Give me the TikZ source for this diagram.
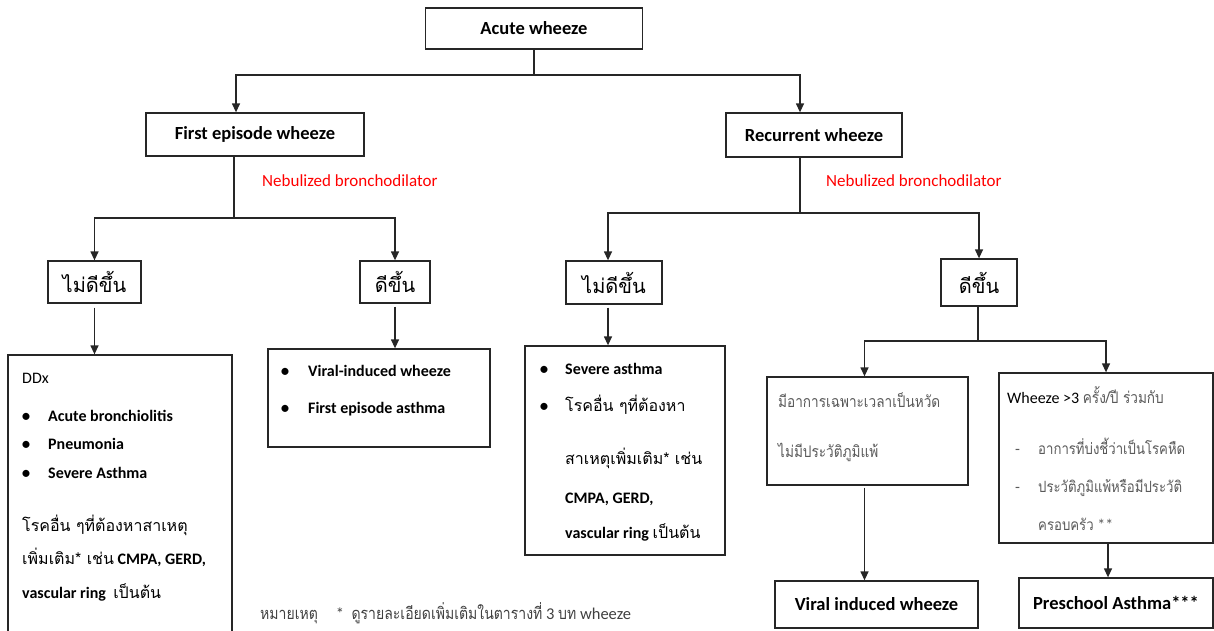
\documentclass[tikz,border=0pt]{standalone}
\usepackage{fontspec}
\setmainfont{Carlito}
\newfontfamily\thaifont[Script=Thai]{Loma}
\newfontfamily\thaithin[Script=Thai,FakeStretch=0.85]{Loma}
\usetikzlibrary{arrows.meta,positioning,calc}
\tikzset{wh/.style n args={2}{minimum width=#1, minimum height=#2}}

\begin{document}
\begin{tikzpicture}[
  x=1pt, y=-1pt,
  >={Triangle[length=9pt,width=8pt]},
  box/.style={rectangle, draw=black!85, line width=1.3pt, inner sep=0pt,
              font=\fontsize{18.5}{21}\selectfont\bfseries},
  cond/.style={font=\fontsize{20}{22}\selectfont\thaifont},
  conn/.style={line width=1.3pt, black!85},
  arr/.style={->, line width=1.3pt, black!85},
  neb/.style={anchor=west, inner sep=0pt, text=red,
              font=\fontsize{17}{20}\selectfont},
  txt/.style={anchor=base west, inner sep=0pt, font=\fontsize{16}{19}\selectfont},
  dim/.style={text=black!65}
]
\newcommand{\bul}{{\fontsize{20}{20}\selectfont\textbullet}}

% ---------- Boxes ----------
\useasboundingbox (0,0) rectangle (1214,630);
\node[box, wh={217}{41}] (acute)  at (534,28.5)  {Acute wheeze};
\node[box, wh={218}{43}] (first)  at (255,134.5) {First episode wheeze};
\node[box, wh={176}{44}] (recur)  at (814,135)   {Recurrent wheeze};
\node[box, cond, wh={93}{42}] (worse1)  at (94.5,282)  {ไม่ดีขึ้น};
\node[box, cond, wh={70}{42}] (better1) at (395,282)   {ดีขึ้น};
\node[box, cond, wh={96}{43}] (worse2)  at (614,282.5) {ไม่ดีขึ้น};
\node[box, cond, wh={76}{47}] (better2) at (979,282.5) {ดีขึ้น};
\node[box, wh={224}{280}] (ddx)     at (120,495)   {};
\node[box, wh={222}{98}]  (viral1)  at (379,398)   {};
\node[box, wh={200}{209}] (severe)  at (625,450.5) {};
\node[box, wh={201}{108}] (cold)    at (867.5,431) {};
\node[box, wh={214}{170}] (wheeze3) at (1106,458)  {};
\node[box, wh={203}{47}]  (viral2)  at (876.5,604.5) {Viral induced wheeze};
\node[box, wh={194}{50}]  (preschool) at (1116,603) {Preschool Asthma***};

% ---------- Treatment labels ----------
\node[neb] (neb1) at (262,181) {Nebulized bronchodilator};
\node[neb] (neb2) at (826,181) {Nebulized bronchodilator};

% ---------- Box contents ----------
% DDx
\node[txt] (ddx0) at (22,383) {DDx};
\foreach \t/\y [count=\i] in {Acute bronchiolitis/421, Pneumonia/449, Severe Asthma/478} {
  \node[txt] (ddxb\i) at (21,\y+1) {\bul};
  \node[txt, font=\fontsize{16}{19}\selectfont\bfseries] (ddx\i) at (48,\y) {\t};
}
\node[txt] (ddx4) at (22,531) {\thaifont โรคอื่น ๆที่ต้องหาสาเหตุ};
\node[txt] (ddx5) at (22,564) {{\thaifont เพิ่มเติม* เช่น} \textbf{CMPA, GERD,}};
\node[txt] (ddx6) at (22,598) {\textbf{vascular ring}\ \ {\thaifont เป็นต้น}};
% viral-induced / first episode
\foreach \t/\y [count=\i] in {Viral-induced wheeze/376, First episode asthma/413} {
  \node[txt] (virb\i) at (280,\y+1) {\bul};
  \node[txt, font=\fontsize{16}{19}\selectfont\bfseries] (vir\i) at (308,\y) {\t};
}
% severe asthma
\node[txt] (sevb1) at (539,375) {\bul};
\node[txt] (sevb2) at (539,412) {\bul};
\node[txt] (sev1) at (565,374) {\textbf{Severe asthma}};
\node[txt] (sev2) at (565,411) {\thaifont โรคอื่น ๆที่ต้องหา};
\node[txt] (sev3) at (565,464) {\thaifont สาเหตุเพิ่มเติม* เช่น};
\node[txt] (sev4) at (565,503) {\textbf{CMPA, GERD,}};
\node[txt] (sev5) at (565,538) {\textbf{vascular ring} {\thaifont เป็นต้น}};
% cold only
\node[txt, dim] (cold1) at (778,407) {\thaithin มีอาการเฉพาะเวลาเป็นหวัด};
\node[txt, dim] (cold2) at (778,457) {\thaithin ไม่มีประวัติภูมิแพ้};
% recurrent > 3
\node[txt] (wz1) at (1007,403) {Wheeze >3 {\color{black!65}\thaithin ครั้ง/ปี ร่วมกับ}};
\foreach \t/\y [count=\i] in {อาการที่บ่งชี้ว่าเป็นโรคหืด/454, ประวัติภูมิแพ้หรือมีประวัติ/492} {
  \node[txt, dim] (wzd\i) at (1015,\y) {-};
  \node[txt, dim, font=\fontsize{15.5}{18}\selectfont] (wz\i x) at (1038,\y) {\thaithin \t};
}
\node[txt, dim] (wz4) at (1038,530) {{\fontsize{15.5}{18}\selectfont\thaithin ครอบครัว} **};

% ---------- Note ----------
\node[txt, text=black!75, font=\fontsize{16.5}{19}\selectfont] (note) at (260,619)
  {{\thaithin หมายเหตุ}\hspace{18pt}*\ \ {\thaithin ดูรายละเอียดเพิ่มเติมในตารางที่} 3 {\thaithin บท} wheeze};

% ---------- Connectors ----------
\coordinate (fork0) at (534,75);
\coordinate (fork1) at (234,218);
\coordinate (fork2) at (800,213);
\coordinate (fork3) at (978,341);

\draw[conn] (acute) -- (fork0);
\draw[arr] (fork0) -| ([xshift=-19]first.north);
\draw[arr] (fork0) -| ([xshift=-14]recur.north);

\draw[conn] (first.south -| fork1) -- (fork1);
\draw[arr] (fork1) -| (worse1);
\draw[arr] (fork1) -| (better1);
\draw[arr, shorten <=4pt] (worse1) -- (worse1 |- ddx.north);
\draw[arr, shorten <=3pt] (better1) -- (better1 |- viral1.north);

\draw[conn] (recur.south -| fork2) -- (fork2);
\draw[arr] (fork2) -| ([xshift=-6]worse2.north);
\draw[arr] (fork2) -| (better2);
\draw[arr, shorten <=3pt] ([xshift=-6]worse2.south) -- ([xshift=-6]worse2.south |- severe.north);

\draw[conn] (better2.south -| fork3) -- (fork3);
\draw[arr] (fork3) -| ([xshift=-3]cold.north);
\draw[arr] (fork3) -| (wheeze3);
\draw[arr, shorten <=2pt] ([xshift=-3]cold.south) -- ([xshift=-3]cold.south |- viral2.north);
\draw[arr] ([xshift=2]wheeze3.south) -- ([xshift=2]wheeze3.south |- preschool.north);

\end{tikzpicture}
\end{document}
